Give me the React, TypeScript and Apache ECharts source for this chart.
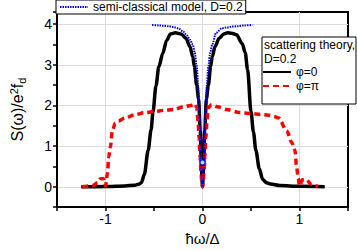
import React, { useEffect, useRef } from "react";
import * as echarts from "echarts";

// φ=0 (scattering theory), [ħω/Δ, S]
const phi0X = [-1.25, -1.0, -0.8, -0.7, -0.65, -0.63, -0.6, -0.56, -0.53, -0.51, -0.48, -0.45, -0.41, -0.37, -0.33, -0.28, -0.22, -0.17, -0.13, -0.1, -0.084, -0.06, -0.04, -0.023, -0.01, 0,
  0.01, 0.023, 0.04, 0.06, 0.084, 0.1, 0.13, 0.17, 0.22, 0.26, 0.3, 0.35, 0.41, 0.44, 0.465, 0.5, 0.525, 0.55, 0.585, 0.62, 0.66, 0.7, 0.8, 1.0, 1.26];
const phi0Y = [0, 0.005, 0.02, 0.04, 0.07, 0.1, 0.3, 0.9, 1.4, 1.85, 2.48, 2.95, 3.28, 3.6, 3.76, 3.79, 3.76, 3.65, 3.45, 3.2, 2.96, 2.5, 2.16, 1.37, 0.4, 0,
  0.4, 1.37, 2.16, 2.5, 2.96, 3.2, 3.45, 3.65, 3.76, 3.79, 3.78, 3.74, 3.52, 3.3, 2.88, 1.85, 1.35, 0.9, 0.45, 0.18, 0.1, 0.07, 0.03, 0.01, 0];

// φ=π (scattering theory)
const phiPiX = [-1.24, -1.13, -1.08, -1.05, -1.02, -1.0, -0.98, -0.967, -0.95, -0.93, -0.9, -0.866, -0.8, -0.7, -0.6, -0.5, -0.4, -0.3, -0.2, -0.12, -0.08, -0.06, -0.045, -0.035, -0.025, -0.015, -0.007, 0,
  0.007, 0.015, 0.025, 0.035, 0.045, 0.06, 0.094, 0.15, 0.25, 0.38, 0.5, 0.6, 0.68, 0.75, 0.785, 0.87, 0.92, 0.953, 0.97, 0.987, 1.0, 1.03, 1.07, 1.12, 1.19];
const phiPiY = [0, 0.03, 0.1, 0.2, 0.2, 0.02, 0.33, 0.73, 0.97, 1.37, 1.56, 1.62, 1.69, 1.77, 1.82, 1.85, 1.88, 1.9, 1.96, 2.0, 2.04, 1.95, 1.6, 1.2, 0.75, 0.35, 0.1, 0,
  0.1, 0.35, 0.75, 1.2, 1.6, 1.95, 2.02, 1.97, 1.9, 1.83, 1.8, 1.78, 1.76, 1.72, 1.69, 1.37, 1.09, 0.9, 0.49, 0.21, 0.02, 0.17, 0.18, 0.06, 0];

// semi-classical model
const semiX = [-0.52, -0.45, -0.4, -0.35, -0.3, -0.25, -0.2, -0.16, -0.13, -0.1, -0.08, -0.06, -0.045, -0.035, -0.025, -0.015, -0.008, 0,
  0.008, 0.015, 0.025, 0.035, 0.045, 0.06, 0.08, 0.1, 0.14, 0.2, 0.25, 0.3, 0.36, 0.43, 0.515];
const semiY = [3.98, 3.97, 3.96, 3.95, 3.93, 3.9, 3.82, 3.72, 3.62, 3.5, 3.3, 2.97, 2.5, 2.0, 1.35, 0.6, 0.2, 0,
  0.2, 0.6, 1.35, 2.0, 2.5, 2.97, 3.3, 3.5, 3.79, 3.9, 3.92, 3.94, 3.95, 3.97, 3.98];

const markerX = [0];
const markerY = [0.6];

const xTicks = { min: -1.5, max: 1.5, step: 0.5 };
const yTicks = { min: -0.5, max: 4.3, step: 0.5 };

const names = { semi: "semi-classical model, D=0.2", phi0: "φ=0", phiPi: "φ=π" };

const zip = (xs: number[], ys: number[]) => xs.map((x, i) => [x, ys[i]]);
const FONT = "Liberation Sans, Arial, sans-serif";
const intLabel = (v: number) => (Math.abs(v - Math.round(v)) < 1e-9 ? String(Math.round(v)) : "");

export default function App() {
  const ref = useRef<HTMLDivElement>(null);
  useEffect(() => {
    if (!ref.current) return;
    const chart = echarts.init(ref.current, undefined, { renderer: "svg" });
    chart.setOption({
      animation: false,
      backgroundColor: "#fff",
      textStyle: { fontFamily: FONT },
      grid: { left: 51, right: 9, top: 12, bottom: 38, show: true, borderColor: "#000", borderWidth: 2, backgroundColor: "transparent" },
      xAxis: {
        type: "value", min: xTicks.min, max: xTicks.max, interval: xTicks.step,
        name: "ħω/Δ", nameLocation: "middle", nameGap: 22,
        nameTextStyle: { fontSize: 15, color: "#000", fontFamily: FONT },
        axisLine: { show: true, onZero: false, lineStyle: { color: "#000", width: 2 } },
        axisTick: { show: true, inside: false, length: 4, lineStyle: { color: "#000", width: 1.5 } },
        axisLabel: { formatter: intLabel, fontSize: 14, color: "#000", margin: 5, fontFamily: FONT },
        splitLine: { show: true, lineStyle: { color: ["rgba(0,0,0,0)", "#dcdcdc"], width: 1 } },
      },
      yAxis: {
        type: "value", min: yTicks.min, max: yTicks.max, interval: yTicks.step,
        name: "S(ω)/e{sup|2}f{sub|d}", nameLocation: "middle", nameGap: 30, nameRotate: 90,
        nameTextStyle: {
          fontSize: 16, color: "#000", fontFamily: FONT,
          rich: {
            sup: { fontSize: 11, verticalAlign: "top", padding: [0, 0, 8, 0], color: "#000" },
            sub: { fontSize: 11, verticalAlign: "bottom", padding: [6, 0, 0, 0], color: "#000" },
          },
        },
        axisLine: { show: true, onZero: false, lineStyle: { color: "#000", width: 2 } },
        axisTick: { show: true, inside: false, length: 4, lineStyle: { color: "#000", width: 1.5 } },
        axisLabel: { formatter: intLabel, fontSize: 14, color: "#000", margin: 5, fontFamily: FONT },
        splitLine: { show: true, lineStyle: { color: ["rgba(0,0,0,0)", "#dcdcdc"], width: 1 } },
      },
      legend: [
        {
          data: [names.semi], left: 56, top: 0, padding: [1, 3, 1, 3],
          itemWidth: 28, itemHeight: 12, borderColor: "#000", borderWidth: 1, backgroundColor: "#fff",
          itemStyle: { opacity: 0 },
          textStyle: { fontSize: 12, color: "#000", fontFamily: FONT }, selectedMode: false, z: 10,
        },
        {
          data: [names.phi0, names.phiPi], left: 262, top: 66, orient: "vertical", padding: 0, itemGap: 2,
          itemWidth: 28, itemHeight: 14, itemStyle: { opacity: 0 },
          textStyle: { fontSize: 12, color: "#000", fontFamily: FONT },
          selectedMode: false, z: 10,
        },
      ],
      graphic: [
        { type: "rect", z: 5, shape: { x: 262, y: 37, width: 94, height: 67 }, style: { fill: "#fff", stroke: "#000", lineWidth: 1 } },
        { type: "text", z: 6, x: 264, y: 39, style: { text: "scattering theory,", fontSize: 12, fill: "#000", fontFamily: FONT } },
        { type: "text", z: 6, x: 264, y: 53, style: { text: "D=0.2", fontSize: 12, fill: "#000", fontFamily: FONT } },
      ],
      series: [
        {
          name: names.phi0, type: "line", data: zip(phi0X, phi0Y), symbol: "none", showSymbol: false,
          smooth: 0.3, smoothMonotone: "x", lineStyle: { color: "#000", width: 3.5 }, itemStyle: { color: "#000" }, z: 2,
        },
        {
          name: names.phiPi, type: "line", data: zip(phiPiX, phiPiY), symbol: "none", showSymbol: false,
          smooth: 0.3, smoothMonotone: "x", lineStyle: { color: "#ff0000", width: 3.5, type: [6, 4] }, itemStyle: { color: "#ff0000" }, z: 3,
        },
        {
          name: names.semi, type: "line", data: zip(semiX, semiY), symbol: "none", showSymbol: false,
          smooth: 0.3, smoothMonotone: "x", lineStyle: { color: "#0000ee", width: 2, type: [1.5, 1] }, itemStyle: { color: "#0000ee" }, z: 4,
        },
        {
          name: "marker", type: "scatter", data: zip(markerX, markerY), symbol: "circle", symbolSize: 5,
          itemStyle: { color: "#fff", borderColor: "#0000ee", borderWidth: 1.2 }, z: 5,
        },
      ],
    });
    return () => chart.dispose();
  }, []);
  return <div ref={ref} style={{ width: 357, height: 251, position: "fixed", left: 0, top: 0 }} />;
}
